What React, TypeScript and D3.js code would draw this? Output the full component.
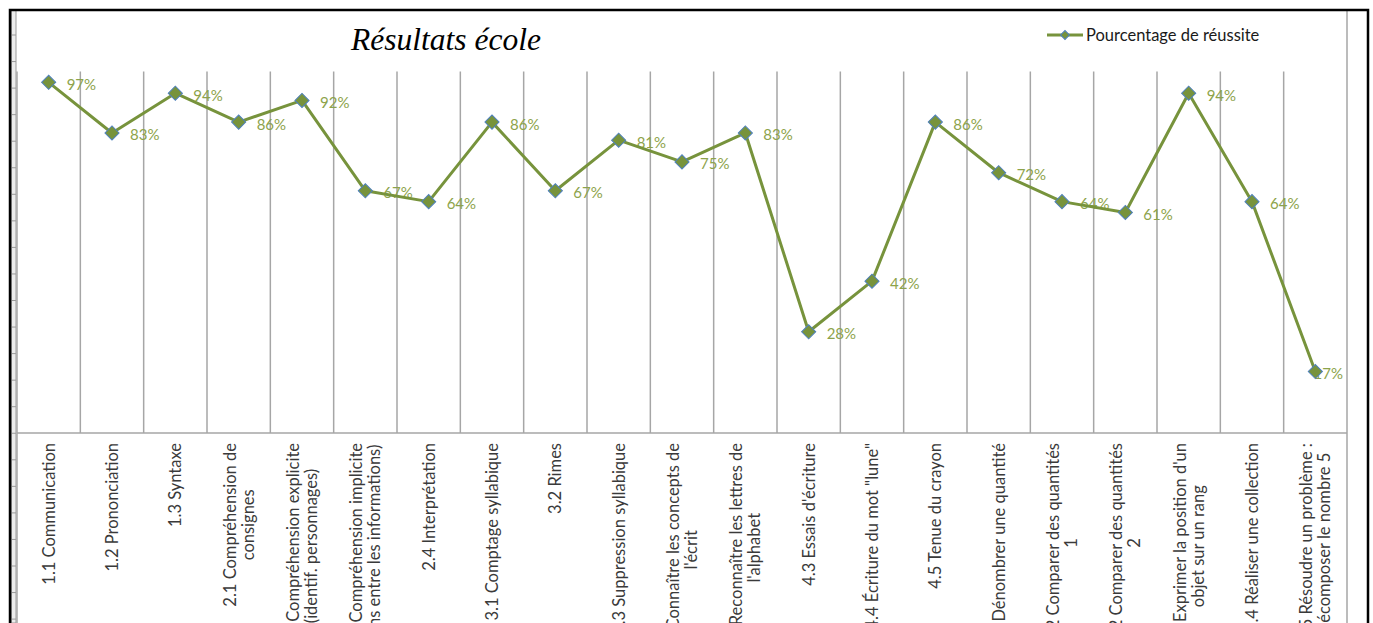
import React, { useEffect, useRef } from 'react';
import * as d3 from 'd3';

// Category labels (line breaks as in the original chart)
const categories: string[][] = [
  ['1.1 Communication'],
  ['1.2 Prononciation'],
  ['1.3 Syntaxe'],
  ['2.1 Compréhension de', 'consignes'],
  ['2.2 Compréhension explicite', '(identif. personnages)'],
  ['2.3 Compréhension implicite', '(liens entre les informations)'],
  ['2.4 Interprétation'],
  ['3.1 Comptage syllabique'],
  ['3.2 Rimes'],
  ['3.3 Suppression syllabique'],
  ['4.1 Connaître les concepts de', "l'écrit"],
  ['4.2 Reconnaître les lettres de', "l'alphabet"],
  ["4.3 Essais d'écriture"],
  ['4.4 Écriture du mot "lune"'],
  ['4.5 Tenue du crayon'],
  ['5.1 Dénombrer une quantité'],
  ['5.2 Comparer des quantités', '1'],
  ['5.2 Comparer des quantités', '2'],
  ["5.3 Exprimer la position d'un", 'objet sur un rang'],
  ['5.4 Réaliser une collection'],
  ['5.5 Résoudre un problème :', 'décomposer le nombre 5'],
];

// Pourcentage de réussite
const values: number[] = [
  0.97, 0.83, 0.94, 0.86, 0.92, 0.67, 0.64, 0.86, 0.67, 0.81, 0.75,
  0.83, 0.28, 0.42, 0.86, 0.72, 0.64, 0.61, 0.94, 0.64, 0.17,
];

const seriesName = 'Pourcentage de réussite';
const chartTitle = 'Résultats école';

const WIDTH = 1373;
const HEIGHT = 623;
const LINE_COLOR = '#77933C';
const MARKER_STROKE = '#4F81BD';
const LABEL_COLOR = '#8DA34B';
const GRID_COLOR = '#a6a6a6';
const FONT = 'Lato, "Open Sans", sans-serif';

const App: React.FC = () => {
  const svgRef = useRef<SVGSVGElement>(null);

  useEffect(() => {
    if (!svgRef.current) return;
    const svg = d3.select(svgRef.current);
    svg.selectAll('*').remove();

    const plot = { left: 17, right: 1347, top: 71.5, bottom: 433 };

    const x = d3
      .scaleBand<number>()
      .domain(d3.range(categories.length))
      .range([plot.left, plot.right])
      .padding(0);
    const y = d3.scaleLinear().domain([0, 1]).range([plot.bottom, plot.top]);
    const cx = (i: number) => (x(i) ?? 0) + x.bandwidth() / 2;

    svg.append('rect').attr('width', WIDTH).attr('height', HEIGHT).attr('fill', '#fff');

    // Left spreadsheet strip with ticks
    svg
      .append('rect')
      .attr('x', 11.5)
      .attr('y', 10)
      .attr('width', 4.5)
      .attr('height', HEIGHT - 10)
      .attr('fill', '#ececec')
      .attr('stroke', '#9a9a9a')
      .attr('stroke-width', 1);
    svg
      .append('g')
      .selectAll('line')
      .data(d3.range(35, HEIGHT, 26.55))
      .enter()
      .append('line')
      .attr('x1', 11.5)
      .attr('x2', 16)
      .attr('y1', (d) => d)
      .attr('y2', (d) => d)
      .attr('stroke', '#9a9a9a')
      .attr('stroke-width', 1);

    // Vertical gridlines at category boundaries
    svg
      .append('g')
      .selectAll('line')
      .data(d3.range(1, categories.length))
      .enter()
      .append('line')
      .attr('x1', (i) => x(i) ?? 0)
      .attr('x2', (i) => x(i) ?? 0)
      .attr('y1', plot.top)
      .attr('y2', plot.bottom)
      .attr('stroke', GRID_COLOR)
      .attr('stroke-width', 1.5);

    // Plot frame lines
    svg
      .append('line')
      .attr('x1', plot.left)
      .attr('x2', plot.left)
      .attr('y1', plot.top)
      .attr('y2', HEIGHT)
      .attr('stroke', GRID_COLOR)
      .attr('stroke-width', 1.5);
    svg
      .append('line')
      .attr('x1', plot.right)
      .attr('x2', plot.right)
      .attr('y1', 10)
      .attr('y2', HEIGHT)
      .attr('stroke', GRID_COLOR)
      .attr('stroke-width', 1.5);
    svg
      .append('line')
      .attr('x1', plot.left)
      .attr('x2', plot.right)
      .attr('y1', y(0))
      .attr('y2', y(0))
      .attr('stroke', GRID_COLOR)
      .attr('stroke-width', 1.5);

    // Category labels, rotated, top-aligned under the axis
    const lineH = 18;
    categories.forEach((lines, i) => {
      const g = svg.append('g');
      const texts = lines.map((t, j) =>
        g
          .append('text')
          .attr('x', 0)
          .attr('y', (j - (lines.length - 1) / 2) * lineH)
          .attr('text-anchor', 'middle')
          .attr('dominant-baseline', 'central')
          .attr('font-family', FONT)
          .attr('font-size', 16.5)
          .attr('fill', '#3a3a3a')
          .text(t)
      );
      const maxLen = d3.max(texts, (t) => (t.node() as SVGTextElement).getComputedTextLength()) ?? 0;
      g.attr('transform', `translate(${cx(i)},${plot.bottom + 10 + maxLen / 2}) rotate(-90)`);
    });

    // Data labels
    const labels = svg.append('g');
    values.forEach((v, i) => {
      const t = labels
        .append('text')
        .attr('x', cx(i) + 18)
        .attr('y', y(v) + 1.5)
        .attr('dominant-baseline', 'central')
        .attr('font-family', FONT)
        .attr('font-size', 15)
        .attr('fill', LABEL_COLOR)
        .text(`${Math.round(v * 100)}%`);
      const w = (t.node() as SVGTextElement).getComputedTextLength();
      if (cx(i) + 18 + w > plot.right - 4) t.attr('x', plot.right - 4 - w);
    });

    // Series line
    const line = d3
      .line<number>()
      .x((_, i) => cx(i))
      .y((d) => y(d));
    svg
      .append('path')
      .datum(values)
      .attr('d', line)
      .attr('fill', 'none')
      .attr('stroke', LINE_COLOR)
      .attr('stroke-width', 3)
      .attr('stroke-linejoin', 'round');

    // Diamond markers
    const diamond = d3.symbol(d3.symbolSquare, 100);
    svg
      .append('g')
      .selectAll('path')
      .data(values)
      .enter()
      .append('path')
      .attr('d', diamond)
      .attr('transform', (d, i) => `translate(${cx(i)},${y(d)}) rotate(45)`)
      .attr('fill', LINE_COLOR)
      .attr('stroke', MARKER_STROKE)
      .attr('stroke-width', 1);

    // Title
    svg
      .append('text')
      .attr('x', 446)
      .attr('y', 50)
      .attr('text-anchor', 'middle')
      .attr('font-family', '"Liberation Serif", "Times New Roman", serif')
      .attr('font-style', 'italic')
      .attr('font-size', 31.5)
      .attr('fill', '#000')
      .text(chartTitle);

    // Legend
    const legend = svg.append('g').attr('transform', 'translate(1047,35)');
    legend
      .append('line')
      .attr('x1', 0)
      .attr('x2', 36)
      .attr('stroke', LINE_COLOR)
      .attr('stroke-width', 3);
    legend
      .append('path')
      .attr('d', d3.symbol(d3.symbolSquare, 40)())
      .attr('transform', 'translate(18,0) rotate(45)')
      .attr('fill', LINE_COLOR)
      .attr('stroke', MARKER_STROKE)
      .attr('stroke-width', 1);
    legend
      .append('text')
      .attr('x', 39)
      .attr('y', 0)
      .attr('dominant-baseline', 'central')
      .attr('font-family', FONT)
      .attr('font-size', 16.5)
      .attr('fill', '#1a1a1a')
      .text(seriesName);

    // Outer black frame (open at the bottom)
    svg
      .append('path')
      .attr('d', `M10,${HEIGHT} V10 H1368 V${HEIGHT}`)
      .attr('fill', 'none')
      .attr('stroke', '#000')
      .attr('stroke-width', 2.5);
  }, []);

  return (
    <svg
      ref={svgRef}
      width={WIDTH}
      height={HEIGHT}
      style={{ position: 'absolute', left: 0, top: 0, display: 'block' }}
    />
  );
};

export default App;
